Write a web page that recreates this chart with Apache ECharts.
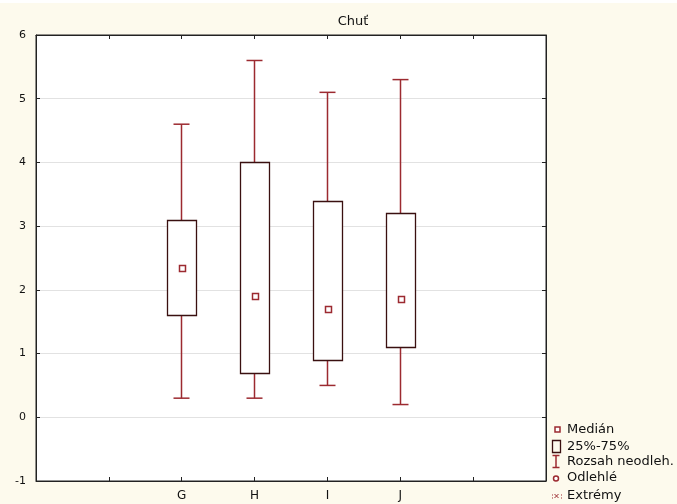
<!DOCTYPE html>
<html>
<head>
<meta charset="utf-8">
<script src="https://cdn.jsdelivr.net/npm/echarts@6/dist/echarts.min.js"></script>
<style>
html,body{margin:0;padding:0;background:#FDFAED;}
#c{width:677px;height:504px;}
</style>
</head>
<body>
<div id="c"></div>
<script>
// ---- data ----
const title = 'Chuť';
const categories = ['', '', 'G', 'H', 'I', 'J', '', ''];
const groups = ['G', 'H', 'I', 'J'];
const lowWhisker = [0.3, 0.3, 0.5, 0.2];
const q1 = [1.6, 0.7, 0.9, 1.1];
const median = [2.35, 1.9, 1.7, 1.85];
const q3 = [3.1, 4.0, 3.4, 3.2];
const highWhisker = [4.6, 5.6, 5.1, 5.3];
const yTicks = [-1, 0, 1, 2, 3, 4, 5, 6];
const legendLabels = ['Medián', '25%-75%', 'Rozsah neodleh.', 'Odlehlé', 'Extrémy'];

const boxData = groups.map((g, i) => [g, lowWhisker[i], q1[i], median[i], q3[i], highWhisker[i]]);

const RED = '#9C2A30';
const DARK = '#3A1010';
const FONT = 'DejaVu Sans';

function px(v){ return Math.round(v - 0.5) + 0.5; }

function renderBox(params, api) {
  const c = api.value(0);
  const x = px(api.coord([c, 0])[0]);
  const yLow = api.coord([c, api.value(1)])[1];
  const yQ1 = api.coord([c, api.value(2)])[1];
  const yMed = api.coord([c, api.value(3)])[1];
  const yQ3 = api.coord([c, api.value(4)])[1];
  const yHigh = api.coord([c, api.value(5)])[1];
  const bw = 29, cw = 16, ms = 6;
  return {
    type: 'group',
    children: [
      {type: 'line', shape: {x1: x, y1: yHigh, x2: x, y2: yLow}, style: {stroke: RED, lineWidth: 1.5}},
      {type: 'line', shape: {x1: x - cw/2, y1: yHigh, x2: x + cw/2, y2: yHigh}, style: {stroke: RED, lineWidth: 1.5}},
      {type: 'line', shape: {x1: x - cw/2, y1: yLow, x2: x + cw/2, y2: yLow}, style: {stroke: RED, lineWidth: 1.5}},
      {type: 'rect', shape: {x: Math.round(x - bw/2) + 0.5, y: Math.round(yQ3) + 0.5, width: bw, height: Math.round(yQ1) - Math.round(yQ3)},
        style: {fill: '#fff', stroke: DARK, lineWidth: 1.3}},
      {type: 'rect', shape: {x: Math.round(x - ms/2) + 0.5, y: Math.round(yMed - ms/2) + 0.5, width: ms, height: ms},
        style: {fill: '#fff', stroke: RED, lineWidth: 1.5}}
    ]
  };
}

const chart = echarts.init(document.getElementById('c'), null, {renderer: 'canvas'});

const legendY = [429.5, 446.5, 461.5, 478, 495.5];
const lg = [];
// markers
lg.push({type: 'rect', shape: {x: 555, y: 427, width: 5, height: 5}, style: {fill: '#fff', stroke: RED, lineWidth: 1.5}});
lg.push({type: 'rect', shape: {x: 552.5, y: 440.5, width: 8, height: 12}, style: {fill: 'none', stroke: DARK, lineWidth: 1.3}});
lg.push({type: 'line', shape: {x1: 556, y1: 455, x2: 556, y2: 468}, style: {stroke: RED, lineWidth: 1.5}});
lg.push({type: 'line', shape: {x1: 552.5, y1: 455.5, x2: 559.5, y2: 455.5}, style: {stroke: RED, lineWidth: 1.5}});
lg.push({type: 'line', shape: {x1: 552.5, y1: 467.5, x2: 559.5, y2: 467.5}, style: {stroke: RED, lineWidth: 1.5}});
lg.push({type: 'circle', shape: {cx: 556, cy: 478.5, r: 2.5}, style: {fill: '#fff', stroke: RED, lineWidth: 1.5}});
lg.push({type: 'line', shape: {x1: 554.5, y1: 494, x2: 558.5, y2: 498}, style: {stroke: RED, lineWidth: 1}});
lg.push({type: 'line', shape: {x1: 558.5, y1: 494, x2: 554.5, y2: 498}, style: {stroke: RED, lineWidth: 1}});
[[552, 494.5], [552, 497.5], [561, 494.5], [561, 497.5]].forEach(p => {
  lg.push({type: 'rect', shape: {x: p[0], y: p[1], width: 1, height: 1}, style: {fill: RED}});
});
legendLabels.forEach((t, i) => {
  lg.push({type: 'text', x: 567, y: legendY[i], style: {text: t, fill: '#111', font: '13px "' + FONT + '"', textVerticalAlign: 'middle', verticalAlign: 'middle'}});
});

chart.setOption({
  backgroundColor: '#FDFAED',
  animation: false,
  title: {
    text: title, left: 348, top: 10, textAlign: 'center',
    textStyle: {fontFamily: FONT, fontSize: 13, fontWeight: 'normal', color: '#111'}
  },
  grid: {left: 36, right: 131, top: 35, bottom: 23, show: true, backgroundColor: '#fff', borderColor: '#222', borderWidth: 1},
  xAxis: [{
    type: 'category', data: categories, boundaryGap: false, position: 'bottom',
    axisLine: {show: true, onZero: false, lineStyle: {color: '#222', width: 1}},
    axisTick: {show: true, inside: true, length: 4, interval: 0, lineStyle: {color: '#222'}},
    axisLabel: {interval: 0, margin: 9, color: '#111', fontFamily: FONT, fontSize: 12},
    splitLine: {show: false}
  }, {
    type: 'category', data: categories, boundaryGap: false, position: 'top',
    axisLine: {show: true, onZero: false, lineStyle: {color: '#222', width: 1}},
    axisTick: {show: true, inside: true, length: 4, interval: 0, lineStyle: {color: '#222'}},
    axisLabel: {show: false}, splitLine: {show: false}
  }],
  yAxis: [{
    type: 'value', min: yTicks[0], max: yTicks[yTicks.length - 1], interval: 1,
    axisLine: {show: true, onZero: false, lineStyle: {color: '#222', width: 1}},
    axisTick: {show: true, inside: true, length: 4, lineStyle: {color: '#222'}},
    axisLabel: {margin: 10, color: '#111', fontFamily: FONT, fontSize: 11},
    splitLine: {show: true, lineStyle: {color: '#E2E2E2', width: 1}}
  }, {
    type: 'value', min: yTicks[0], max: yTicks[yTicks.length - 1], interval: 1, position: 'right',
    axisLine: {show: true, onZero: false, lineStyle: {color: '#222', width: 1}},
    axisTick: {show: true, inside: true, length: 4, lineStyle: {color: '#222'}},
    axisLabel: {show: false}, splitLine: {show: false}
  }],
  series: [{
    type: 'custom', xAxisIndex: 0, yAxisIndex: 0,
    renderItem: renderBox,
    encode: {x: 0, y: [1, 2, 3, 4, 5]},
    data: boxData,
    z: 5
  }],
  graphic: [
    {type: 'rect', shape: {x: 0, y: 0, width: 677, height: 3}, style: {fill: '#fff'}, z: 100},
    {type: 'group', children: lg, z: 100}
  ]
});
</script>
</body>
</html>
